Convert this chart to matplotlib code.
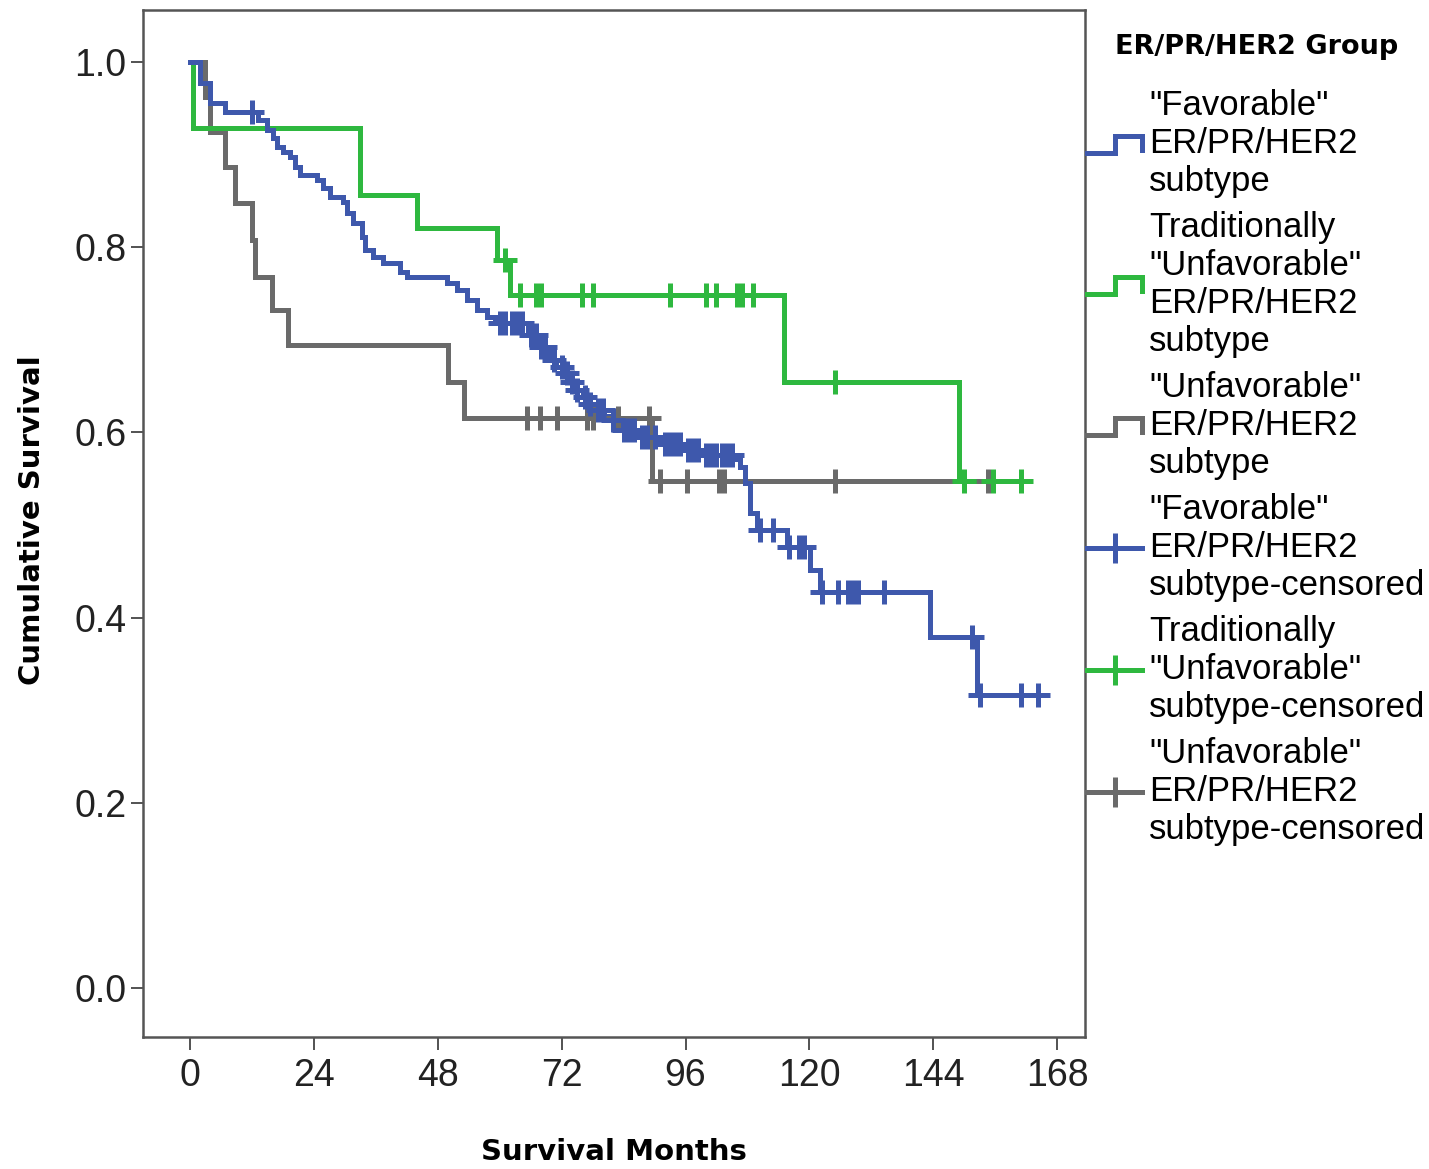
import numpy as np
import matplotlib
matplotlib.use("Agg")
import matplotlib.pyplot as plt
from matplotlib.lines import Line2D
from matplotlib.legend_handler import HandlerBase

# ---------------- data ----------------
fav_times = [0, 1.9, 3.9, 6.8, 13.2, 14.9, 16.1, 16.9, 18.0, 19.4, 20.3, 21.3, 24.6, 25.8,
             27.1, 29.6, 30.4, 31.6, 33.3, 33.9, 35.5, 37.4, 40.7, 42.0, 49.8, 51.7, 53.7,
             55.6, 57.5, 59.1, 65.5, 67.5, 69.8, 71.0, 72.3, 73.3, 74.2, 76.1, 77.5, 78.9,
             80.2, 81.4, 83.9, 86.6, 91.0, 95.5, 99.4, 105.2, 106.6, 107.5, 108.5, 109.9,
             115.7, 120.1, 122.1, 143.4, 152.5]
fav_surv = [1.0, 0.977, 0.956, 0.946, 0.937, 0.927, 0.918, 0.908, 0.903, 0.897, 0.887, 0.878,
            0.873, 0.864, 0.854, 0.849, 0.837, 0.826, 0.811, 0.797, 0.789, 0.783, 0.773, 0.768,
            0.761, 0.754, 0.743, 0.732, 0.725, 0.718, 0.705, 0.692, 0.678, 0.671, 0.664, 0.655,
            0.646, 0.638, 0.631, 0.624, 0.618, 0.613, 0.603, 0.595, 0.588, 0.581, 0.576, 0.571,
            0.563, 0.545, 0.513, 0.495, 0.476, 0.451, 0.428, 0.379, 0.316]
fav_censor = [12, 60, 61, 62.4, 63.4, 64.3, 66, 67, 68, 68.8, 70.5, 72, 73, 74, 75, 76.5, 77.5,
              79, 80, 82, 84, 85, 86, 87.5, 88.5, 90, 92, 93, 94, 95, 96.5, 97.5, 98.5, 100,
              101, 102, 103, 104, 105, 110.5, 113, 116, 118, 119, 122.5, 125.6, 127.5, 128.5,
              129.5, 134.5, 151.5, 153, 161, 164.3]

trad_times = [0, 0.6, 33.0, 44.0, 59.5, 62.0, 115.0, 149.0]
trad_surv = [1.0, 0.929, 0.857, 0.821, 0.786, 0.748, 0.654, 0.548]
trad_censor = [61, 64, 67, 68, 76, 78, 93, 100, 102, 106, 107, 109, 125, 150, 155.6, 161]

unf_times = [0, 2.9, 3.9, 6.8, 8.7, 12.0, 12.6, 15.9, 19.0, 50.0, 53.0, 89.6]
unf_surv = [1.0, 0.962, 0.924, 0.887, 0.848, 0.808, 0.768, 0.732, 0.694, 0.655, 0.616, 0.548]
unf_censor = [65.3, 67.8, 71.1, 77, 78, 82.9, 89.0, 91.1, 96.3, 102.5, 103.5, 125, 154.6]

labels = ['"Favorable"\nER/PR/HER2\nsubtype',
          'Traditionally\n"Unfavorable"\nER/PR/HER2\nsubtype',
          '"Unfavorable"\nER/PR/HER2\nsubtype',
          '"Favorable"\nER/PR/HER2\nsubtype-censored',
          'Traditionally\n"Unfavorable"\nsubtype-censored',
          '"Unfavorable"\nER/PR/HER2\nsubtype-censored']
legend_title = "ER/PR/HER2 Group"
x_ticks = [0, 24, 48, 72, 96, 120, 144, 168]
y_ticks = [0.0, 0.2, 0.4, 0.6, 0.8, 1.0]

BLUE = "#3E58AC"
GREEN = "#2EB83F"
GRAY = "#6A6A6A"
LW = 3.6

plt.rcParams['font.family'] = ['Liberation Sans', 'DejaVu Sans']

fig = plt.figure(figsize=(14.29, 11.69), dpi=100)
ax = fig.add_axes([0.1001, 0.1129, 0.6592, 0.8785])


def km_curve(ax, times, surv, cens, color):
    t = np.array(times, float)
    s = np.array(surv, float)
    tmax = max(max(cens), t[-1])
    tt = np.append(t, tmax)
    ss = np.append(s, s[-1])
    ax.step(tt, ss, where='post', color=color, lw=LW, solid_joinstyle='miter', zorder=2)
    c = np.array(cens, float)
    idx = np.searchsorted(t, c, side='right') - 1
    ax.plot(c, s[idx], ls='none', marker='+', ms=17, mew=LW, color=color, zorder=3)


km_curve(ax, unf_times, unf_surv, unf_censor, GRAY)
km_curve(ax, trad_times, trad_surv, trad_censor, GREEN)
km_curve(ax, fav_times, fav_surv, fav_censor, BLUE)

ax.set_xlim(-9.1, 173.4)
ax.set_ylim(-0.0529, 1.0562)
ax.set_xticks(x_ticks)
ax.set_xticklabels([str(v) for v in x_ticks])
ax.set_yticks(y_ticks)
ax.set_yticklabels([f"{v:.1f}" for v in y_ticks])
ax.tick_params(axis='both', direction='out', length=9, width=1.3, color='#444444',
               labelsize=27, labelcolor='#222222')
ax.tick_params(axis='x', pad=6)
ax.tick_params(axis='y', pad=3)
for sp in ax.spines.values():
    sp.set_color('#555555')
    sp.set_linewidth(1.8)

ax.set_xlabel("Survival Months", fontsize=21, fontweight='bold', family='DejaVu Sans')
ax.set_ylabel("Cumulative Survival", fontsize=21, fontweight='bold', family='DejaVu Sans')
ax.xaxis.set_label_coords(0.5, -0.112)
ax.xaxis.label.set_va('center')
ax.yaxis.set_label_coords(-0.118, 0.503)
ax.yaxis.label.set_va('center')


class HandlerStep(HandlerBase):
    def create_artists(self, legend, orig_handle, xdescent, ydescent, width, height,
                       fontsize, trans):
        x0 = -xdescent
        c = height / 2 - ydescent
        h = 6.0
        xs = [x0, x0 + 0.5 * width, x0 + 0.5 * width, x0 + width, x0 + width]
        ys = [c - h, c - h, c + h, c + h, c - 4]
        ln = Line2D(xs, ys, color=orig_handle.get_color(), lw=LW,
                    solid_joinstyle='miter', transform=trans)
        return [ln]


class StepHandle(Line2D):
    pass


handles = [StepHandle([], [], color=BLUE), StepHandle([], [], color=GREEN),
           StepHandle([], [], color=GRAY),
           Line2D([], [], color=BLUE, lw=LW, marker='+', ms=21, mew=LW),
           Line2D([], [], color=GREEN, lw=LW, marker='+', ms=21, mew=LW),
           Line2D([], [], color=GRAY, lw=LW, marker='+', ms=21, mew=LW)]

leg = ax.legend(handles, labels, loc='upper left', bbox_to_anchor=(1.002, 0.977),
                frameon=False, fontsize=25, handlelength=1.6, handletextpad=0.2,
                labelspacing=0.36, borderpad=0.0, borderaxespad=0.0, numpoints=1,
                title=legend_title,
                title_fontproperties={'family': 'DejaVu Sans', 'weight': 'bold', 'size': 19.5},
                handler_map={StepHandle: HandlerStep()})
leg._legend_box.sep = 21
for t in leg.get_texts():
    t.set_linespacing(1.2)

fig.savefig("out.png", dpi=100, facecolor='white')
